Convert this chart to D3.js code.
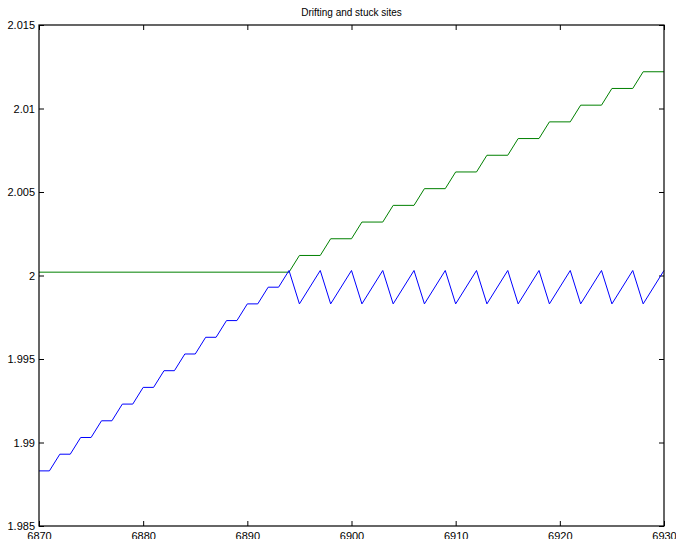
<!DOCTYPE html>
<html>
<head>
<meta charset="utf-8">
<script src="https://cdn.jsdelivr.net/npm/d3@7"></script>
<style>
  body { margin: 0; background: #fff; }
  svg { display: block; }
  text { font-family: "Liberation Sans", Arial, sans-serif; fill: #000; }
</style>
</head>
<body>
<svg id="canvas" width="676" height="539"></svg>
<script>
// Data
var title = "Drifting and stuck sites";

var xTicks = [6870, 6880, 6890, 6900, 6910, 6920, 6930];
var yTicks = [1.985, 1.99, 1.995, 2, 2.005, 2.01, 2.015];

// blue: drifting site (staircase then sawtooth)
var blueX = [6870, 6871, 6872, 6873, 6874, 6875, 6876, 6877, 6878, 6879,
             6880, 6881, 6882, 6883, 6884, 6885, 6886, 6887, 6888, 6889,
             6890, 6891, 6892, 6893, 6894,
             6895, 6897, 6898, 6900, 6901, 6903, 6904, 6906, 6907, 6909,
             6910, 6912, 6913, 6915, 6916, 6918, 6919, 6921, 6922, 6924,
             6925, 6927, 6928, 6930];
var blueY = [1.9883, 1.9883, 1.9893, 1.9893, 1.9903, 1.9903, 1.9913, 1.9913, 1.9923, 1.9923,
             1.9933, 1.9933, 1.9943, 1.9943, 1.9953, 1.9953, 1.9963, 1.9963, 1.9973, 1.9973,
             1.9983, 1.9983, 1.9993, 1.9993, 2.0003,
             1.9983, 2.0003, 1.9983, 2.0003, 1.9983, 2.0003, 1.9983, 2.0003, 1.9983, 2.0003,
             1.9983, 2.0003, 1.9983, 2.0003, 1.9983, 2.0003, 1.9983, 2.0003, 1.9983, 2.0003,
             1.9983, 2.0003, 1.9983, 2.0003];

// green: stuck site (flat then staircase)
var greenX = [6870, 6894, 6895, 6897, 6898, 6900, 6901, 6903, 6904, 6906,
              6907, 6909, 6910, 6912, 6913, 6915, 6916, 6918, 6919, 6921,
              6922, 6924, 6925, 6927, 6928, 6930];
var greenY = [2.0002, 2.0002, 2.0012, 2.0012, 2.0022, 2.0022, 2.0032, 2.0032, 2.0042, 2.0042,
              2.0052, 2.0052, 2.0062, 2.0062, 2.0072, 2.0072, 2.0082, 2.0082, 2.0092, 2.0092,
              2.0102, 2.0102, 2.0112, 2.0112, 2.0122, 2.0122];

var svg = d3.select("#canvas");

// Margin setup
var margin = {top: 25, right: 12, bottom: 13, left: 39};
var width = +svg.attr("width") - margin.left - margin.right;
var height = +svg.attr("height") - margin.top - margin.bottom;

var g = svg.append("g")
    .attr("transform", "translate(" + margin.left + "," + margin.top + ")");

// Scales
var x = d3.scaleLinear().domain([6870, 6930]).range([0, width]);
var y = d3.scaleLinear().domain([1.985, 2.015]).range([height, 0]);

// Axes, matlab style: ticks inward on all four sides
var fmt = function(d){ return String(+d.toFixed(3)); };
var tick = 5;

var xBottom = g.append("g")
    .attr("transform", "translate(0," + height + ")")
    .call(d3.axisBottom(x).tickValues(xTicks).tickSizeInner(-tick).tickSizeOuter(0)
        .tickPadding(6).tickFormat(fmt));
var xTop = g.append("g")
    .call(d3.axisTop(x).tickValues(xTicks).tickSizeInner(-tick).tickSizeOuter(0)
        .tickFormat(""));
var yLeft = g.append("g")
    .call(d3.axisLeft(y).tickValues(yTicks).tickSizeInner(-tick).tickSizeOuter(0)
        .tickPadding(4).tickFormat(fmt));
var yRight = g.append("g")
    .attr("transform", "translate(" + width + ",0)")
    .call(d3.axisRight(y).tickValues(yTicks).tickSizeInner(-tick).tickSizeOuter(0)
        .tickFormat(""));

g.selectAll(".domain").remove();
g.selectAll(".tick line").attr("stroke", "#000");
g.selectAll(".tick text")
    .style("font-family", "'Liberation Sans', Arial, sans-serif")
    .attr("font-size", 11);
xBottom.selectAll(".tick text").attr("dy", "0.71em");

// Lines
var line = d3.line()
    .x(function(d){ return x(d[0]); })
    .y(function(d){ return y(d[1]); });

var blue = blueX.map(function(v, i){ return [v, blueY[i]]; });
var green = greenX.map(function(v, i){ return [v, greenY[i]]; });

g.append("path")
    .datum(green)
    .attr("fill", "none")
    .attr("stroke", "#008000")
    .attr("stroke-width", 1)
    .attr("d", line);

g.append("path")
    .datum(blue)
    .attr("fill", "none")
    .attr("stroke", "#0000ff")
    .attr("stroke-width", 1)
    .attr("d", line);

// Box
g.append("rect")
    .attr("x", 0).attr("y", 0)
    .attr("width", width).attr("height", height)
    .attr("fill", "none")
    .attr("stroke", "#000")
    .attr("stroke-width", 1.2);

// Title
g.append("text")
    .attr("x", width / 2)
    .attr("y", -9)
    .attr("text-anchor", "middle")
    .attr("font-size", 10)
    .text(title);
</script>
</body>
</html>
